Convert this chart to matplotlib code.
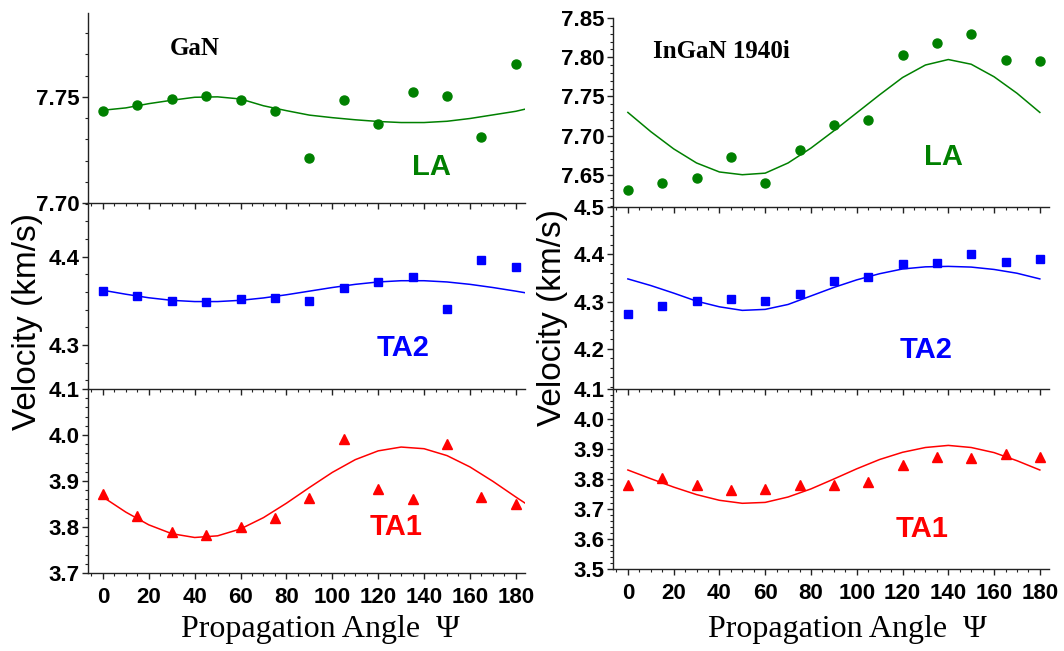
import matplotlib
matplotlib.use("Agg")
import matplotlib.pyplot as plt
from matplotlib.ticker import MultipleLocator, FixedLocator

plt.rcParams['font.family'] = ['Liberation Sans', 'DejaVu Sans']
plt.rcParams['font.weight'] = 'bold'

# measured velocities (km/s) vs propagation angle
angles = [0, 15, 30, 45, 60, 75, 90, 105, 120, 135, 150, 165, 180]
gan_la = [7.7432, 7.7461, 7.7491, 7.7502, 7.7483, 7.7432, 7.7212, 7.7483, 7.7371, 7.7522, 7.7502, 7.7311, 7.7653]
gan_ta2 = [4.3615, 4.3555, 4.3502, 4.3487, 4.3517, 4.3536, 4.3494, 4.3642, 4.3713, 4.3766, 4.3404, 4.3962, 4.3887]
gan_ta1 = [3.871, 3.823, 3.790, 3.782, 3.800, 3.819, 3.863, 3.991, 3.882, 3.861, 3.981, 3.866, 3.851]
ingan_la = [7.631, 7.639, 7.646, 7.673, 7.640, 7.682, 7.713, 7.720, 7.803, 7.818, 7.829, 7.796, 7.795]
ingan_ta2 = [4.273, 4.291, 4.302, 4.306, 4.301, 4.316, 4.344, 4.351, 4.379, 4.381, 4.400, 4.384, 4.391]
ingan_ta1 = [3.781, 3.803, 3.781, 3.764, 3.766, 3.781, 3.779, 3.789, 3.845, 3.873, 3.871, 3.882, 3.874]

# fitted curves
fit_x_gan = [0, 10, 20, 30, 40, 50, 60, 70, 80, 90, 100, 110, 120, 130, 140, 150, 160, 170, 180, 184]
gan_la_fit = [7.7437, 7.7448, 7.7468, 7.7484, 7.7498, 7.7500, 7.7490, 7.7458, 7.7435, 7.7414,
              7.7402, 7.7392, 7.7384, 7.7379, 7.7379, 7.7385, 7.7398, 7.7415, 7.7432, 7.7442]
gan_ta2_fit = [4.3620, 4.3575, 4.3535, 4.3506, 4.3492, 4.3492, 4.3506, 4.3533, 4.3569, 4.3610,
               4.3651, 4.3687, 4.3714, 4.3728, 4.3728, 4.3714, 4.3687, 4.3651, 4.3610, 4.3592]
gan_ta1_fit = [3.8652, 3.8323, 3.8047, 3.7855, 3.7772, 3.7808, 3.7958, 3.8204, 3.8517, 3.8858,
               3.9187, 3.9464, 3.9655, 3.9738, 3.9702, 3.9552, 3.9306, 3.8993, 3.8652, 3.8520]

fit_x_ingan = [0, 10, 20, 30, 40, 50, 60, 70, 80, 90, 100, 110, 120, 130, 140, 150, 160, 170, 180]
ingan_la_fit = [7.7295, 7.705, 7.683, 7.665, 7.6535, 7.650, 7.652, 7.665, 7.684, 7.706,
                7.729, 7.752, 7.774, 7.790, 7.797, 7.791, 7.775, 7.754, 7.7295]
ingan_ta2_fit = [4.348, 4.334, 4.318, 4.301, 4.289, 4.2815, 4.2836, 4.294, 4.312, 4.330,
                 4.346, 4.359, 4.369, 4.3735, 4.3745, 4.373, 4.368, 4.360, 4.348]
ingan_ta1_fit = [3.830, 3.801, 3.773, 3.748, 3.729, 3.719, 3.722, 3.740, 3.767, 3.800,
                 3.834, 3.865, 3.889, 3.905, 3.912, 3.905, 3.888, 3.861, 3.830]

W, H = 1064, 651
fig = plt.figure(figsize=(W / 100, H / 100), dpi=100)


def px_axes(x0, x1, y0, y1):
    ax = fig.add_axes([x0 / W, 1 - y1 / H, (x1 - x0) / W, (y1 - y0) / H])
    ax.set_facecolor('none')
    for s in ['top', 'right']:
        ax.spines[s].set_visible(False)
    for s in ['left', 'bottom']:
        ax.spines[s].set_linewidth(1.0)
        ax.spines[s].set_color('#222222')
    ax.set_xlim(-6.5, 184)
    ax.xaxis.set_major_locator(MultipleLocator(20))
    ax.xaxis.set_minor_locator(MultipleLocator(5))
    ax.tick_params(axis='both', which='major', direction='out', length=4, width=1.0,
                   labelsize=16, color='#222222')
    ax.tick_params(axis='both', which='minor', direction='out', length=2.5, width=0.8,
                   color='#222222')
    ax.tick_params(axis='y', pad=2)
    ax.tick_params(axis='x', pad=6)
    return ax


def panel(ax, fx, fy, y, color, marker, ms, label, lx, ly):
    ax.plot(fx, fy, '-', color=color, lw=1.1)
    ax.plot(angles, y, linestyle='none', marker=marker, color=color, ms=ms, mec=color)
    ax.text(lx, ly, label, color=color, fontsize=21, fontweight='bold',
            ha='center', va='center')


green, blue, red = '#008000', '#0000ff', '#ff0000'

# GaN column
a1 = px_axes(88, 525, 13, 203)
panel(a1, fit_x_gan, gan_la_fit, gan_la, green, 'o', 6.5, 'LA', 143, 7.717)
a1.set_ylim(7.70, 7.7895)
a1.yaxis.set_major_locator(FixedLocator([7.70, 7.75]))
a1.yaxis.set_minor_locator(MultipleLocator(0.01))
a1.tick_params(axis='x', labelbottom=False)
a1.text(40, 7.773, 'GaN', family=['Liberation Serif', 'DejaVu Serif'], fontsize=18,
        fontweight='bold', ha='center', va='center')

a2 = px_axes(88, 525, 203, 389)
panel(a2, fit_x_gan, gan_ta2_fit, gan_ta2, blue, 's', 6, 'TA2', 131, 4.2966)
a2.set_ylim(4.2502, 4.4608)
a2.yaxis.set_major_locator(FixedLocator([4.3, 4.4]))
a2.yaxis.set_minor_locator(MultipleLocator(0.02))
a2.tick_params(axis='x', labelbottom=False)

a3 = px_axes(88, 525, 389, 573)
panel(a3, fit_x_gan, gan_ta1_fit, gan_ta1, red, '^', 7, 'TA1', 128, 3.80)
a3.set_ylim(3.7, 4.1)
a3.yaxis.set_major_locator(FixedLocator([3.7, 3.8, 3.9, 4.0, 4.1]))
a3.yaxis.set_minor_locator(MultipleLocator(0.02))

# InGaN column
b1 = px_axes(613, 1049, 18, 207)
panel(b1, fit_x_ingan, ingan_la_fit, ingan_la, green, 'o', 6.5, 'LA', 138, 7.672)
b1.set_ylim(7.6088, 7.85)
b1.yaxis.set_major_locator(FixedLocator([7.65, 7.70, 7.75, 7.80, 7.85]))
b1.yaxis.set_minor_locator(MultipleLocator(0.01))
b1.tick_params(axis='x', labelbottom=False)
b1.text(41, 7.807, 'InGaN 1940i', family=['Liberation Serif', 'DejaVu Serif'], fontsize=18,
        fontweight='bold', ha='center', va='center')

b2 = px_axes(613, 1049, 207, 389)
panel(b2, fit_x_ingan, ingan_ta2_fit, ingan_ta2, blue, 's', 6, 'TA2', 130.5, 4.198)
b2.set_ylim(4.1153, 4.5)
b2.yaxis.set_major_locator(FixedLocator([4.2, 4.3, 4.4, 4.5]))
b2.yaxis.set_minor_locator(MultipleLocator(0.02))
b2.tick_params(axis='x', labelbottom=False)

b3 = px_axes(613, 1049, 389, 569)
panel(b3, fit_x_ingan, ingan_ta1_fit, ingan_ta1, red, '^', 7, 'TA1', 128.5, 3.634)
b3.set_ylim(3.5, 4.1)
b3.yaxis.set_major_locator(FixedLocator([3.5, 3.6, 3.7, 3.8, 3.9, 4.0, 4.1]))
b3.yaxis.set_minor_locator(MultipleLocator(0.02))

for ax in [a1, a2, a3, b1, b2, b3]:
    ax.yaxis.set_major_formatter(plt.FuncFormatter(
        lambda v, p: ('%.2f' % v) if v > 7 else ('%.1f' % v)))

# axis titles
fig.text(28 / W, 1 - 322 / H, 'Velocity (km/s)', rotation=90, fontsize=24,
         fontweight='normal', ha='center', va='center')
fig.text(553 / W, 1 - 318 / H, 'Velocity (km/s)', rotation=90, fontsize=24,
         fontweight='normal', ha='center', va='center')
fig.text(320 / W, 1 - 629 / H, 'Propagation Angle  \u03a8', fontsize=23,
         family=['Liberation Serif', 'DejaVu Serif'], fontweight='normal',
         ha='center', va='center')
fig.text(847 / W, 1 - 630 / H, 'Propagation Angle  \u03a8', fontsize=23,
         family=['Liberation Serif', 'DejaVu Serif'], fontweight='normal',
         ha='center', va='center')

fig.savefig('out.png', dpi=100, facecolor='white')
